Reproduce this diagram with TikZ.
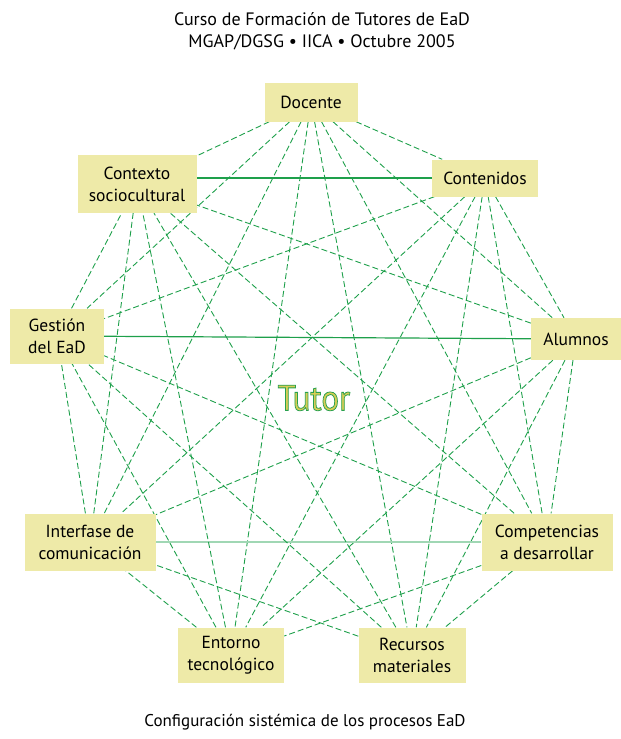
\documentclass[tikz,border=0pt]{standalone}
\usepackage{fontspec}
\setmainfont{PT Sans}
\usepackage{tikz}
\usetikzlibrary{positioning,backgrounds}
\definecolor{boxFill}{RGB}{238,234,168}
\definecolor{lineGreen}{RGB}{30,160,75}
\definecolor{paleGreen}{RGB}{160,215,180}
\definecolor{tutorFill}{RGB}{215,205,85}
\tikzstyle{topic} = [rectangle, fill=boxFill, align=center, font=\fontsize{17.5}{22}\selectfont, inner sep=2pt]
\tikzstyle{link} = [draw=lineGreen, line width=0.9pt, dash pattern=on 6pt off 3pt]
\tikzstyle{tie} = [draw=lineGreen, line width=1.2pt]
\tikzstyle{caption} = [align=center, font=\fontsize{18}{22}\selectfont]

\begin{document}
\begin{tikzpicture}[x=1pt, y=-1pt]
\useasboundingbox (0,0) rectangle (621,739);
%----------------------------------------------------------------------------
% Titles
\node (titulo) [caption] at (322,31) {Curso de Formación de Tutores de EaD\\MGAP/DGSG • IICA • Octubre 2005};
\node (pie) [caption, font=\fontsize{17}{20}\selectfont] at (305,722) {Configuración sistémica de los procesos EaD};

%----------------------------------------------------------------------------
% Placement of the nine boxes
\node (docente) [topic, minimum width=93, minimum height=39] at (311,102) {Docente};
\node (contenidos) [topic, minimum width=106, minimum height=37] at (485,178) {Contenidos};
\node (alumnos) [topic, minimum width=90, minimum height=42] at (576,339) {Alumnos};
\node (competencias) [topic, minimum width=131, minimum height=57] at (547,542) {Competencias\\a desarrollar};
\node (recursos) [topic, minimum width=107, minimum height=55] at (412,655) {Recursos\\materiales};
\node (entornoTec) [topic, minimum width=106, minimum height=55] at (231,655) {Entorno\\tecnológico};
\node (interfaseCom) [topic, minimum width=131, minimum height=57] at (90,542) {Interfase de\\comunicación};
\node (gestionEaD) [topic, minimum width=94, minimum height=55] at (57,336) {Gestión\\del EaD};
\node (contextoSoc) [topic, minimum width=119, minimum height=58] at (137,184) {Contexto\\sociocultural};

\node (tutor) [xscale=0.92, font=\fontsize{36}{36}\selectfont] at (314,398) {{\color{tutorFill}\special{pdf:literal direct 0.16 0.63 0.31 RG 0.8 w 2 Tr}Tutor\special{pdf:literal direct 0 Tr}}};

%----------------------------------------------------------------------------
% Lines
\begin{pgfonlayer}{background}
\draw [link] (docente) -- (contenidos);
\draw [link] (docente) -- (alumnos);
\draw [link] (docente) -- (competencias);
\draw [link] (docente) -- (recursos);
\draw [link] (docente) -- (entornoTec);
\draw [link] (docente) -- (interfaseCom);
\draw [link] (docente) -- (gestionEaD);
\draw [link] (docente) -- (contextoSoc);

\draw [link] (contenidos) -- (alumnos);
\draw [link] (contenidos) -- (competencias);
\draw [link] (contenidos) -- (recursos);
\draw [link] (contenidos) -- (entornoTec);
\draw [link] (contenidos) -- (interfaseCom);
\draw [link] (contenidos) -- (gestionEaD);
\draw [tie] (contextoSoc.east |- contenidos.west) -- (contenidos.west);

\draw [link] (alumnos) -- (competencias);
\draw [link] (alumnos) -- (recursos);
\draw [link] (alumnos) -- (entornoTec);
\draw [link] (alumnos) -- (interfaseCom);
\draw [link] (alumnos) -- (contextoSoc);
\draw [tie] (gestionEaD) -- (alumnos);

\draw [link] (competencias) -- (recursos);
\draw [link] (competencias) -- (entornoTec);
\draw [link] (competencias) -- (gestionEaD);
\draw [link] (competencias) -- (contextoSoc);
\draw [tie, draw=paleGreen] (interfaseCom) -- (competencias);

\draw [link] (recursos) -- (interfaseCom);
\draw [link] (recursos) -- (gestionEaD);
\draw [link] (recursos) -- (contextoSoc);

\draw [link] (entornoTec) -- (interfaseCom);
\draw [link] (entornoTec) -- (gestionEaD);
\draw [link] (entornoTec) -- (contextoSoc);

\draw [link] (interfaseCom) -- (gestionEaD);
\draw [link] (interfaseCom) -- (contextoSoc);

\draw [link] (gestionEaD) -- (contextoSoc);
\end{pgfonlayer}

\end{tikzpicture}
\end{document}
